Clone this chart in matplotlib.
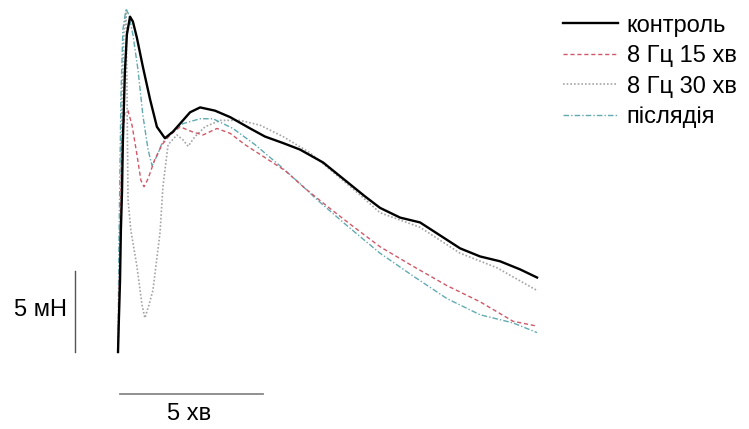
import matplotlib.pyplot as plt
import numpy as np

plt.rcParams['font.family'] = ['Liberation Sans', 'DejaVu Sans']

# time (min) and force (mN)
t_control = [0, 0.03, 0.07, 0.10, 0.14, 0.17, 0.21, 0.24, 0.31, 0.42, 0.52, 0.66,
             0.87, 1.12, 1.36, 1.64, 1.92, 2.17, 2.52, 2.87, 3.39, 3.92, 4.62,
             5.14, 5.77, 6.36, 7.17, 7.94, 8.64, 9.16, 9.86, 10.56, 11.26, 11.96,
             12.66, 13.36, 14.06, 14.65]
f_control = [0, 2.0, 4.4, 7.5, 9.9, 13.0, 15.4, 17.3, 19.6, 20.7, 20.4, 19.4,
             17.6, 15.6, 13.9, 13.2, 13.6, 14.1, 14.8, 15.1, 14.9, 14.5, 13.8,
             13.3, 12.9, 12.5, 11.7, 10.6, 9.6, 8.9, 8.3, 8.0, 7.2, 6.4,
             5.9, 5.6, 5.1, 4.6]

t_15 = [0, 0.07, 0.14, 0.24, 0.35, 0.49, 0.66, 0.80, 0.91, 1.05, 1.29, 1.54, 1.82,
        2.17, 2.59, 2.97, 3.46, 3.92, 4.44, 5.14, 5.84, 6.54, 7.31, 8.11, 9.16,
        10.31, 11.50, 12.66, 13.81, 14.65]
f_15 = [0, 6.3, 13.1, 14.8, 14.9, 14.0, 12.2, 10.6, 10.2, 10.7, 11.9, 12.8, 13.4,
        13.9, 13.6, 13.4, 13.8, 13.5, 12.8, 12.0, 11.2, 10.1, 9.0, 7.9, 6.5,
        5.3, 4.1, 3.1, 1.9, 1.6]

t_30 = [0, 0.07, 0.14, 0.21, 0.28, 0.31, 0.35, 0.45, 0.66, 0.84, 0.94, 1.08, 1.22,
        1.47, 1.57, 1.75, 2.06, 2.27, 2.45, 2.69, 3.04, 3.57, 4.27, 4.97, 5.77,
        6.71, 7.52, 8.46, 9.16, 10.56, 11.96, 13.25, 14.65]
f_30 = [0, 6.3, 15.6, 19.9, 21.0, 16.8, 9.4, 7.5, 5.3, 2.9, 2.1, 2.9, 3.8,
        7.4, 10.2, 12.8, 13.4, 13.1, 12.7, 13.3, 13.9, 14.3, 14.3, 14.0, 13.3,
        12.3, 11.1, 9.7, 8.6, 7.7, 6.1, 5.2, 3.8]

t_after = [0, 0.03, 0.10, 0.17, 0.28, 0.38, 0.52, 0.70, 0.87, 1.05, 1.19, 1.36,
           1.54, 1.82, 2.27, 2.87, 3.32, 4.02, 4.79, 5.66, 6.36, 6.96, 7.94,
           9.16, 10.31, 11.50, 12.66, 13.81, 14.65]
f_after = [0, 6.3, 15.6, 19.9, 21.2, 20.8, 19.6, 17.4, 14.6, 12.5, 11.5, 12.1,
           12.9, 13.5, 14.1, 14.4, 14.4, 13.8, 12.8, 11.5, 10.4, 9.4, 7.9,
           6.1, 4.7, 3.3, 2.3, 1.8, 1.2]

labels = ['контроль', '8 Гц 15 хв', '8 Гц 30 хв', 'післядія']


def plot_traces():
    fig = plt.figure(figsize=(7.49, 4.29), dpi=100)
    ax = fig.add_axes([0, 0, 1, 1])
    ax.set_xlim(-4.126, 22.06)
    ax.set_ylim(-4.75, 21.73)
    ax.axis('off')

    ax.plot(t_30, f_30, color='#a4a4a4', lw=1.2, ls=(0, (1, 1.2)), label=labels[2])
    ax.plot(t_after, f_after, color='#62aab2', lw=1.0, ls=(0, (4, 1.5, 1, 1.5)),
            label=labels[3])
    ax.plot(t_15, f_15, color='#d05868', lw=1.0, ls=(0, (3, 2)), label=labels[1])
    ax.plot(t_control, f_control, color='black', lw=1.7, label=labels[0])

    # scale bars
    ax.plot([-1.50, -1.50], [0, 5], color='#555555', lw=1.0)
    ax.text(-1.78, 2.6, '5 мН', ha='right', va='center', fontsize=17)
    ax.plot([0.07, 5.07], [-2.59, -2.59], color='#888888', lw=1.3)
    ax.text(2.5, -3.83, '5 хв', ha='center', va='center', fontsize=17)

    h, l = ax.get_legend_handles_labels()
    order = [3, 2, 0, 1]
    ax.legend([h[i] for i in order], [l[i] for i in order], frameon=False,
              loc='upper left', bbox_to_anchor=(0.752, 0.966), fontsize=17,
              handlelength=2.3, handletextpad=0.38, labelspacing=0.36,
              borderpad=0, borderaxespad=0)

    fig.savefig('out.png', dpi=100)


if __name__ == '__main__':
    plot_traces()
